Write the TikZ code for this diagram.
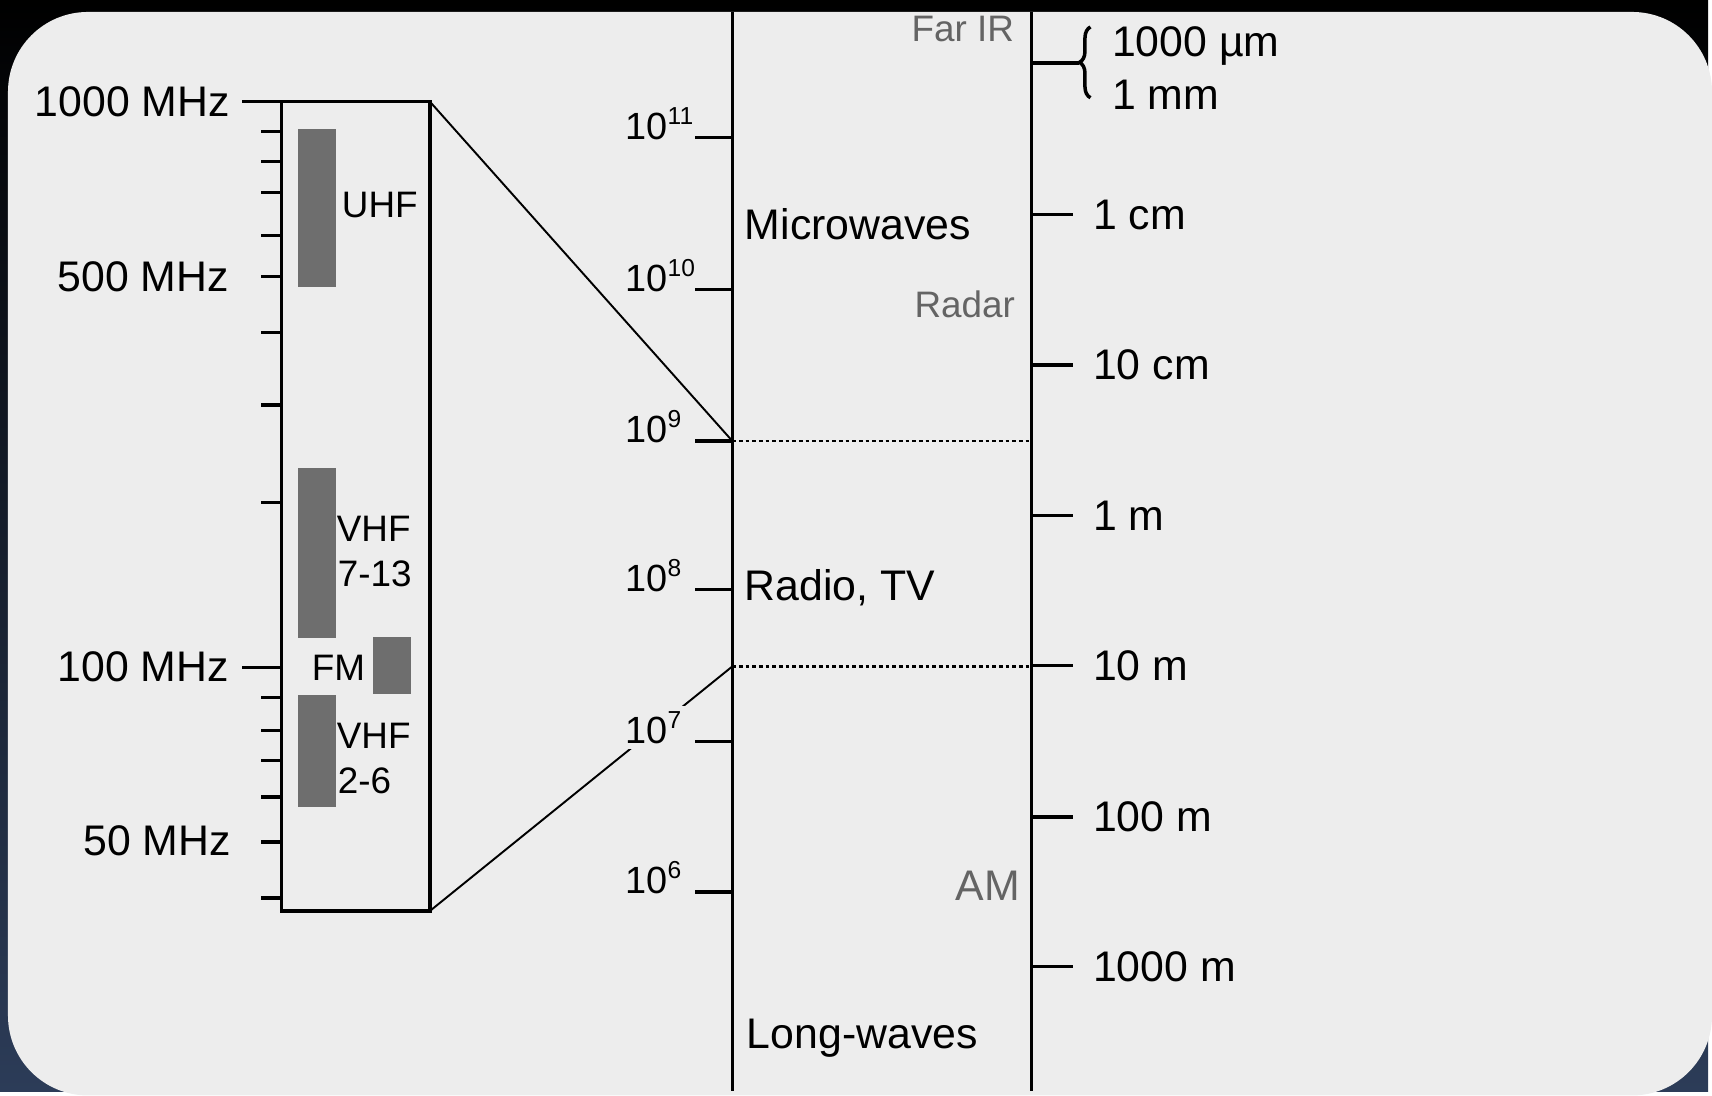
\documentclass[tikz,border=0pt]{standalone}
\usepackage{fontspec}
\setmainfont{Liberation Sans}
\usetikzlibrary{decorations.pathreplacing}

\definecolor{panel}{RGB}{237,237,237}
\definecolor{band}{RGB}{110,110,110}
\definecolor{note}{RGB}{100,100,100}
\definecolor{navy}{RGB}{44,60,88}

\newcommand{\decade}[1]{10\raisebox{4.3pt}{\fontsize{7}{8}\selectfont #1}}

\tikzset{
  axis/.style={line width=0.95pt},
  tick/.style={line width=0.95pt},
  zoomline/.style={line width=0.55pt},
  bandline/.style={line width=0.75pt, dash pattern=on 1.1pt off 0.8pt},
  bandbar/.style={fill=band, draw=none},
  biglabel/.style={inner sep=0pt, font=\fontsize{12.2}{14}\selectfont},
  smalllabel/.style={inner sep=0pt, font=\fontsize{10.5}{12}\selectfont},
  notelabel/.style={smalllabel, text=note},
  powlabel/.style={inner sep=1.5pt, fill=panel, font=\fontsize{10.8}{12}\selectfont},
}

\begin{document}
\begin{tikzpicture}[x=0.01cm, y=-0.01cm]

% Background and panel
\fill[top color=black, middle color=black, bottom color=navy] (0,0) rectangle (1712,1094);
\fill[panel, rounded corners=0.8cm] (8,12) rectangle (1716,1098);
\useasboundingbox (0,0) rectangle (1712,1094);

\coordinate (boxNW) at (282,102);
\coordinate (boxNE) at (431,102);
\coordinate (boxSE) at (431,913);
\coordinate (f9) at (734,442);
\coordinate (fsplit) at (734,668);
\coordinate (w9) at (1034,442);
\coordinate (wsplit) at (1034,668);

% Zoom lines
\draw[zoomline] (boxNE) -- (f9);
\draw[zoomline] (boxSE) -- (fsplit);

% Frequency labels
\foreach \y/\e in {138/11, 290/10, 442/9, 591/8, 743/7, 894/6}
  \node[powlabel, anchor=base west] (pow\e) at (621,\y+2) {\decade{\e}};

% Zoomed box
\draw[axis, fill=panel] (boxNW) rectangle (boxSE);
\foreach \y in {132,162,193,236,277,333,406,504,699,732,762,799,844,900}
  \draw[tick] (262,\y) -- (282,\y);
\draw[tick] (243,102) -- (282,102);
\draw[tick] (243,669) -- (282,669);

\node[biglabel, anchor=east] (mhz1000) at (231,102) {1000 MHz};
\node[biglabel, anchor=east] (mhz500) at (230,277) {500 MHz};
\node[biglabel, anchor=east] (mhz100) at (230,668) {100 MHz};
\node[biglabel, anchor=east] (mhz50) at (232,843) {50 MHz};

% Bands
\fill[bandbar] (299,129) rectangle (337,288);
\fill[bandbar] (299,469) rectangle (337,639);
\fill[bandbar] (374,638) rectangle (412,696);
\fill[bandbar] (299,697) rectangle (337,809);

\node[smalllabel, anchor=base west] (uhf) at (342,218) {UHF};
\node[smalllabel, anchor=base west] (vhfhigh) at (337,543) {VHF};
\node[smalllabel, anchor=base west] (vhfhighch) at (338,588) {7-13};
\node[smalllabel, anchor=base west] (fm) at (312,682) {FM};
\node[smalllabel, anchor=base west] (vhflow) at (337,750) {VHF};
\node[smalllabel, anchor=base west] (vhflowch) at (338,795) {2-6};

% Frequency axis
\draw[axis] (734,12) -- (734,1094);
\foreach \y in {138,290,442,591,743,894}
  \draw[tick] (697,\y) -- (734,\y);

% Wavelength axis
\draw[axis] (1034,12) -- (1034,1094);
\foreach \y/\t in {215/1 cm, 366/10 cm, 517/1 m, 667/10 m, 819/100 m, 969/1000 m}{
  \draw[tick] (1034,\y) -- (1075,\y);
  \node[biglabel, anchor=west] (wl\y) at (1095,\y) {\t};
}

% Band limits
\draw[bandline] (f9) -- (w9);
\draw[bandline] (fsplit) -- (wsplit);

% Far IR limit
\coordinate (mmtick) at (1082,63);
\draw[tick] (1034,63) -- (mmtick);
\draw[line width=1pt, decorate, decoration={brace, amplitude=0.11cm}] (1093,98) -- (1093,27);
\node[biglabel, anchor=base west] (um) at (1114,57) {1000 µm};
\node[biglabel, anchor=base west] (mm) at (1114,110) {1 mm};

% Regions
\node[biglabel, anchor=base west] (micro) at (746,240) {Microwaves};
\node[biglabel, anchor=base west] (radio) at (746,602) {Radio, TV};
\node[biglabel, anchor=base west] (longw) at (748,1051) {Long-waves};
\node[notelabel, anchor=base east] (farir) at (1017,42) {Far IR};
\node[notelabel, anchor=base east] (radar) at (1018,318) {Radar};
\node[biglabel, text=note, anchor=base east] (am) at (1023,903) {AM};

\end{tikzpicture}
\end{document}
